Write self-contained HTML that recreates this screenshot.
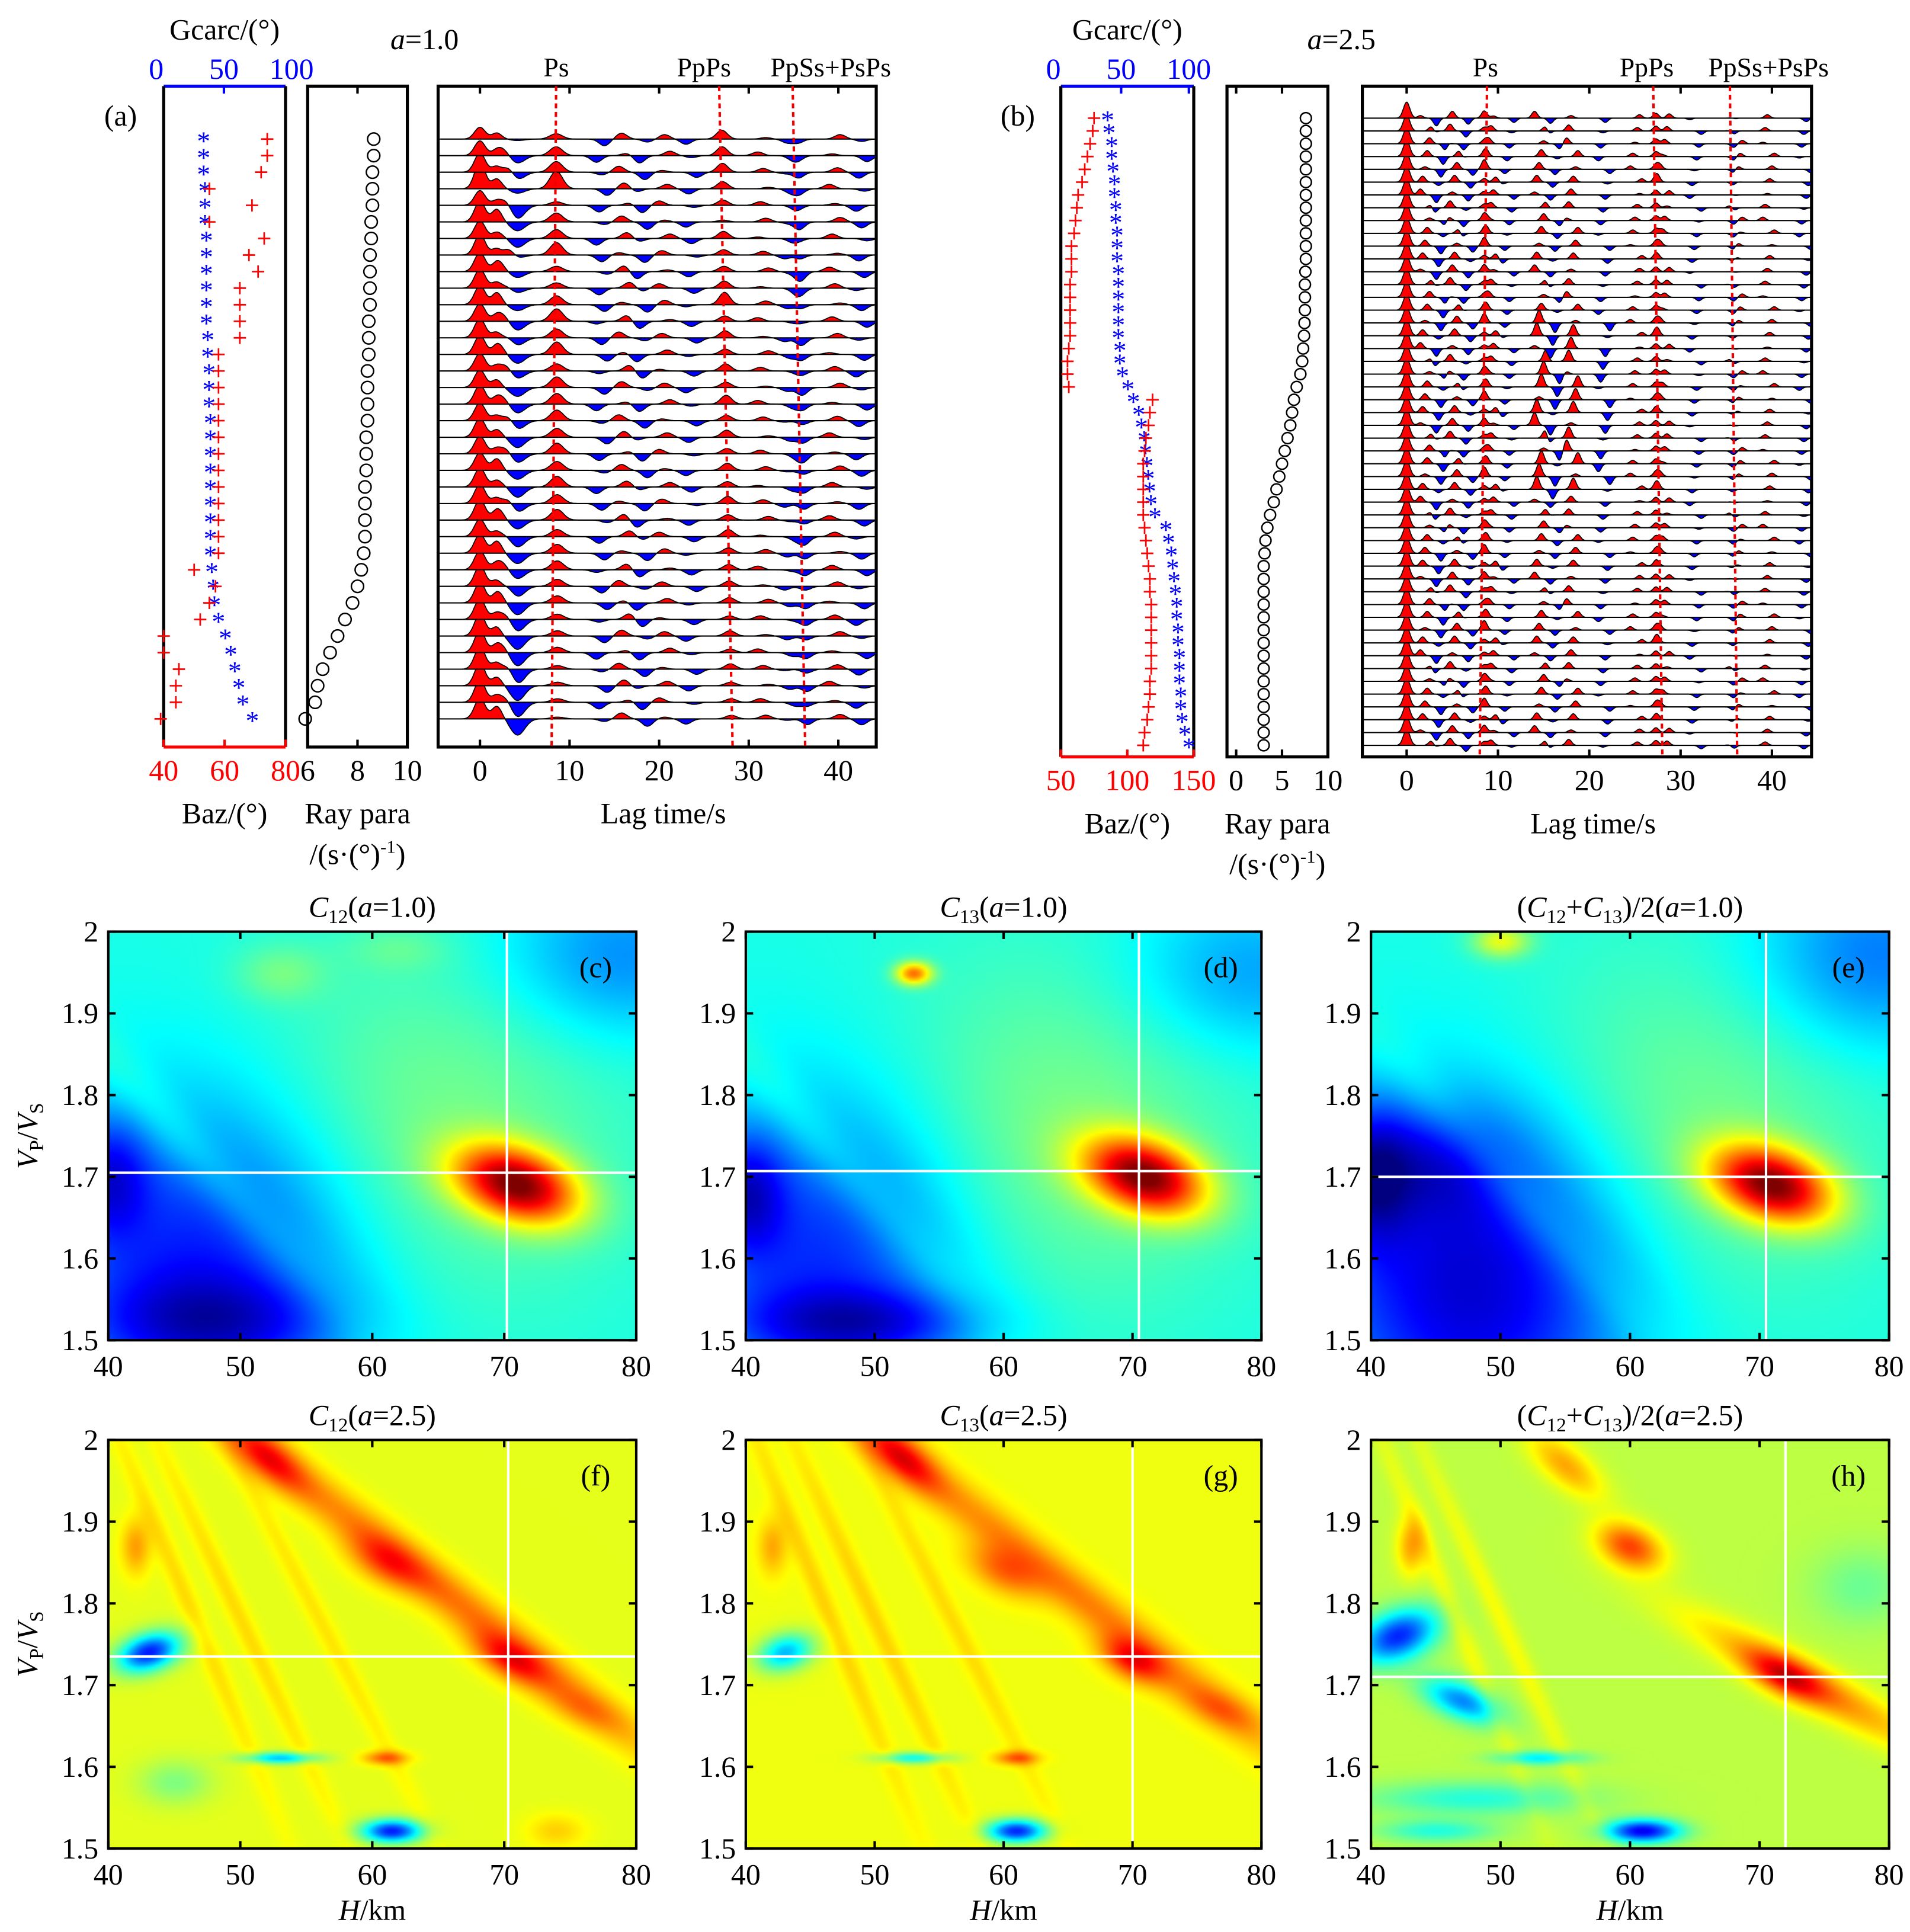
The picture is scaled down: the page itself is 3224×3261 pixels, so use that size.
<!DOCTYPE html>
<html><head><meta charset="utf-8">
<style>
html,body{margin:0;padding:0;background:#fff;}
#root{position:absolute;left:0;top:0;width:1552px;height:1570px;transform:scale(2.07732);transform-origin:0 0;}
canvas{position:absolute;}
svg{position:absolute;left:0;top:0;}
text{font-family:"Liberation Serif",serif;}
</style></head>
<body>
<div id="root">
<canvas id="hc" width="215" height="166" style="left:88px;top:757px;width:429px;height:332px"></canvas>
<canvas id="hd" width="210" height="166" style="left:606px;top:757px;width:419px;height:332px"></canvas>
<canvas id="he" width="210" height="166" style="left:1114px;top:757px;width:421px;height:332px"></canvas>
<canvas id="hf" width="215" height="166" style="left:88px;top:1170px;width:429px;height:332px"></canvas>
<canvas id="hg" width="210" height="166" style="left:606px;top:1170px;width:419px;height:332px"></canvas>
<canvas id="hh" width="210" height="166" style="left:1114px;top:1170px;width:421px;height:332px"></canvas>
<svg id="sv" width="1552" height="1570" viewBox="0 0 1552 1570"></svg>
</div>
<script>
// ---------- DATA ----------
// panel (a): 36 traces
const gcarcA=[35,35,35,36,36,36,37,37,37,37,37,37,38,38,39,39,39,40,40,40,40,40,40,40,40,40,41,42,43,46,51,55,58,61,64,71];
const bazA=[74,74,72,55,69,55,73,68,71,65,65,65,65,58,58,58,58,58,58,58,58,58,58,58,58,58,50,57,55,52,40,40,45,44,44,39];
const rayA=[8.65,8.65,8.6,8.6,8.6,8.55,8.55,8.5,8.5,8.5,8.5,8.45,8.45,8.45,8.4,8.4,8.4,8.4,8.35,8.35,8.35,8.3,8.3,8.3,8.3,8.25,8.15,8.0,7.8,7.5,7.2,6.9,6.6,6.4,6.3,5.9];
const pA=[0.8,1.0,1.3,1.8,1.0,1.4,1.2,1.4,1.3,1.3,1.3,1.2,1.3,1.3,1.2,1.2,1.3,1.2,1.3,1.2,1.2,1.3,1.3,1.4,1.2,1.3,1.3,1.4,1.4,1.4,1.5,1.5,1.5,1.5,1.5,1.4];
const psA=[0.3,0.5,0.6,1.0,0.2,0.5,0.5,0.7,0.3,0.3,0.5,0.7,0.5,0.7,0.4,0.6,0.6,0.6,0.5,0.6,0.5,0.6,0.5,0.6,0.4,0.5,0.5,0.4,0.4,0.3,0.3,0.3,0.2,0.2,0.2,0.1];
const negA=[-0.1,-0.5,-0.5,-0.3,-0.9,-0.6,-0.6,-0.2,-0.4,-0.3,-0.4,-0.6,-0.5,-0.6,-0.5,-0.6,-0.6,-0.6,-0.7,-0.6,-0.6,-0.7,-0.6,-0.6,-0.7,-0.7,-0.6,-0.7,-0.8,-0.8,-0.9,-0.9,-1.0,-1.0,-1.0,-1.1];
const ppA=[0.5,0.5,0.5,0.4,0.3,0.1,0.4,0.3,0.3,0.4,0.7,0.3,0.4,0.3,0.4,0.3,0.5,0.3,0.4,0.3,0.4,0.3,0.4,0.3,0.4,0.3,0.3,0.3,0.3,0.2,0.3,0.2,0.3,0.2,0.2,0.2];
const ssA=[-0.2,-0.2,-0.3,-0.3,-0.1,-0.4,-0.1,-0.2,-0.5,-0.3,-0.2,-0.1,-0.4,-0.3,-0.2,-0.4,-0.3,-0.2,-0.3,-0.4,-0.2,-0.3,-0.3,-0.2,-0.4,-0.3,-0.3,-0.2,-0.3,-0.3,-0.2,-0.3,-0.2,-0.3,-0.2,-0.3];
const wigT=[2,13,15.5,17.5,20,23,31,34,39,42];
const wigAmp=[0.45,-0.45,0.4,-0.5,0.3,-0.35,0.25,-0.25,0.3,-0.4];
// panel (b): 50 traces
const gcarcB=[40,41,43,43,44,45,45,46,46,47,47,47,48,48,48,48,48,48,49,49,51,55,59,63,65,67,68,69,70,71,72,75,83,85,87,88,89,90,91,91,92,92,93,93,93,94,94,95,97,100];
const bazB=[75,74,72,70,68,66,63,62,61,60,58,58,58,57,57,57,57,57,56,55,55,56,119,117,116,114,113,112,112,112,112,112,113,114,115,116,117,117,118,118,118,118,118,118,117,117,116,115,113,112];
const rayB=[7.6,7.6,7.6,7.6,7.6,7.6,7.6,7.6,7.6,7.6,7.6,7.6,7.55,7.5,7.5,7.5,7.45,7.4,7.3,7.2,7.0,6.6,6.3,6.1,5.9,5.6,5.3,5.0,4.7,4.4,4.1,3.7,3.4,3.2,3.1,3.0,3.0,3.0,3.0,3.0,3.0,3.0,3.0,3.0,3.0,3.0,3.0,3.0,3.0,3.0];
const wigTB=[1.5,3,4.5,6,8.5,10.5,14,15.5,17.5,21,24.5,27.5,31,35.5,39,43];
const wigAB=[0.7,-0.9,0.8,-0.7,0.6,-0.5,0.8,-0.6,0.7,-0.5,0.4,0.5,-0.4,0.4,0.4,-0.4];
// heatmap blobs: [H(km), Vp/Vs, amplitude, sigmaLong, sigmaShort (normalized), angle deg]
const blobsC=[[47,1.60,-0.26,0.22,0.28,0],[48,1.52,-0.16,0.16,0.08,0],[40,1.70,-0.18,0.05,0.10,0],[47,1.72,0.07,0.30,0.04,-55],[64,1.75,0.10,0.25,0.30,0],[71,1.69,0.55,0.09,0.06,-30],[79,1.97,-0.14,0.16,0.14,0],[53,1.95,0.08,0.06,0.05,0],[62,1.98,0.05,0.07,0.04,0]];
const blobsD=[[46,1.60,-0.24,0.20,0.28,0],[49,1.52,-0.18,0.16,0.06,0],[40,1.68,-0.2,0.05,0.10,0],[47,1.72,0.06,0.30,0.04,-55],[64,1.75,0.10,0.25,0.30,0],[71,1.70,0.55,0.09,0.06,-30],[79,1.95,-0.12,0.16,0.14,0],[53,1.95,0.35,0.02,0.025,90]];
const blobsE=[[48,1.57,-0.33,0.22,0.30,0],[44,1.72,-0.15,0.12,0.10,0],[40,1.70,-0.18,0.05,0.12,0],[50,1.70,0.06,0.30,0.04,-55],[64,1.75,0.10,0.25,0.30,0],[71,1.69,0.55,0.09,0.06,-30],[79,1.97,-0.16,0.16,0.16,0],[50,1.99,0.20,0.04,0.03,0]];
const blobsF=[[65,1.82,0.16,0.45,0.035,-45],[61,1.85,0.15,0.06,0.035,-40],[70.5,1.73,0.2,0.06,0.03,-40],[52,1.98,0.2,0.07,0.03,-50],[42,1.87,0.12,0.02,0.05,0],[43,1.74,-0.45,0.03,0.045,-60],[53,1.61,-0.28,0.05,0.01,0],[61,1.61,0.17,0.03,0.012,0],[61.5,1.52,-0.45,0.04,0.02,0],[50,1.78,0.06,0.4,0.015,-70],[46,1.80,0.06,0.4,0.015,-72],[56,1.78,0.05,0.4,0.015,-68],[45,1.58,-0.1,0.05,0.04,0],[76,1.67,0.08,0.06,0.03,-30],[74,1.52,0.07,0.04,0.03,0]];
const blobsG=[[65,1.82,0.14,0.45,0.035,-45],[60,1.84,0.15,0.06,0.035,-40],[70,1.73,0.22,0.05,0.03,-40],[52,1.98,0.22,0.07,0.03,-50],[42,1.87,0.10,0.02,0.05,0],[43,1.74,-0.3,0.03,0.04,-60],[53,1.61,-0.22,0.05,0.01,0],[61,1.61,0.17,0.03,0.012,0],[61,1.52,-0.45,0.04,0.02,0],[50,1.78,0.06,0.4,0.015,-70],[46,1.80,0.06,0.4,0.015,-72],[56,1.78,0.05,0.4,0.015,-68],[77,1.67,0.1,0.06,0.03,-30]];
const blobsH=[[74,1.70,0.18,0.2,0.035,-35],[60,1.87,0.25,0.05,0.035,-40],[72,1.71,0.22,0.06,0.03,-35],[55,1.97,0.15,0.07,0.03,-50],[43,1.87,0.15,0.02,0.05,0],[42,1.76,-0.4,0.04,0.06,-55],[47,1.68,-0.3,0.06,0.03,-30],[53,1.61,-0.2,0.06,0.012,0],[61,1.52,-0.45,0.05,0.02,0],[50,1.78,0.06,0.4,0.015,-70],[46,1.80,0.06,0.4,0.015,-72],[48,1.56,-0.15,0.15,0.03,0],[45,1.52,-0.15,0.08,0.02,0],[78,1.82,-0.08,0.07,0.07,0]];
const cross={c:[70.2,1.705],d:[70.5,1.707],e:[70.5,1.70],f:[70.3,1.735],g:[70,1.735],h:[72,1.71]};
const Hticks=[40,50,60,70,80];
const Vticks=[1.5,1.6,1.7,1.8,1.9,2];

// ---------- HEATMAPS ----------
function jet(v){const c=x=>Math.max(0,Math.min(1,x));return [c(1.5-Math.abs(4*v-3))*255,c(1.5-Math.abs(4*v-2))*255,c(1.5-Math.abs(4*v-1))*255];}
function heat(id,base,blobs){
  const cv=document.getElementById(id),ctx=cv.getContext('2d'),W=cv.width,Hh=cv.height;
  const img=ctx.createImageData(W,Hh);
  const B=blobs.map(b=>({u:(b[0]-40)/40,w:(b[1]-1.5)/0.5,a:b[2],s1:b[3],s2:b[4],c:Math.cos(b[5]*Math.PI/180),s:Math.sin(b[5]*Math.PI/180)}));
  for(let j=0;j<Hh;j++)for(let i=0;i<W;i++){
    const u=i/(W-1),w=1-j/(Hh-1);let v=base;
    for(const b of B){const du=u-b.u,dw=w-b.w;const p=du*b.c+dw*b.s,q=-du*b.s+dw*b.c;v+=b.a*Math.exp(-0.5*(p*p/(b.s1*b.s1)+q*q/(b.s2*b.s2)));}
    const col=jet(Math.max(0,Math.min(1,v)));const k=(j*W+i)*4;
    img.data[k]=col[0];img.data[k+1]=col[1];img.data[k+2]=col[2];img.data[k+3]=255;}
  ctx.putImageData(img,0,0);
}
heat('hc',0.40,blobsC);heat('hd',0.40,blobsD);heat('he',0.40,blobsE);
heat('hf',0.60,blobsF);heat('hg',0.61,blobsG);heat('hh',0.56,blobsH);

// ---------- SVG ----------
const NS='http://www.w3.org/2000/svg',sv=document.getElementById('sv');
function el(tag,at,parent){const e=document.createElementNS(NS,tag);for(const k in at)e.setAttribute(k,at[k]);(parent||sv).appendChild(e);return e;}
function txt(x,y,s,at){const e=el('text',Object.assign({x:x,y:y,'font-size':24,'text-anchor':'middle'},at||{}));e.innerHTML=s;return e;}

const C='<tspan font-style="italic">C</tspan>';
const hp=[['c',88,757,429,C+'<tspan font-size="16" dy="5">12</tspan><tspan dy="-5">(</tspan><tspan font-style="italic">a</tspan>=1.0)'],
['d',606,757,419,C+'<tspan font-size="16" dy="5">13</tspan><tspan dy="-5">(</tspan><tspan font-style="italic">a</tspan>=1.0)'],
['e',1114,757,421,'('+C+'<tspan font-size="16" dy="5">12</tspan><tspan dy="-5">+</tspan>'+C+'<tspan font-size="16" dy="5">13</tspan><tspan dy="-5">)/2(</tspan><tspan font-style="italic">a</tspan>=1.0)'],
['f',88,1170,429,C+'<tspan font-size="16" dy="5">12</tspan><tspan dy="-5">(</tspan><tspan font-style="italic">a</tspan>=2.5)'],
['g',606,1170,419,C+'<tspan font-size="16" dy="5">13</tspan><tspan dy="-5">(</tspan><tspan font-style="italic">a</tspan>=2.5)'],
['h',1114,1170,421,'('+C+'<tspan font-size="16" dy="5">12</tspan><tspan dy="-5">+</tspan>'+C+'<tspan font-size="16" dy="5">13</tspan><tspan dy="-5">)/2(</tspan><tspan font-style="italic">a</tspan>=2.5)']];
hp.forEach(([k,x0,y0,w,title])=>{
  const h=332,g=el('g',{});
  
  
  const xs=H=>x0+(H-40)/40*w,ys=v=>y0+h-(v-1.5)/0.5*h;
  const c=cross[k];
  const l1=el('line',{x1:xs(c[0]),x2:xs(c[0]),y1:y0,y2:y0+h,stroke:'#fff','stroke-width':2},g);
  
  
  const l2=el('line',{x1:x0,x2:x0+w,y1:ys(c[1]),y2:ys(c[1]),stroke:'#fff','stroke-width':2},g);
  
  
  el('rect',{x:x0,y:y0,width:w,height:h,fill:'none',stroke:'#000','stroke-width':2},g);
  Hticks.forEach(t=>{el('line',{x1:xs(t),x2:xs(t),y1:y0+h,y2:y0+h-6,stroke:'#000','stroke-width':2},g);el('line',{x1:xs(t),x2:xs(t),y1:y0,y2:y0+6,stroke:'#000','stroke-width':2},g);
    const tt=txt(xs(t),y0+h+29,t);});
  Vticks.forEach(t=>{el('line',{x1:x0,x2:x0+6,y1:ys(t),y2:ys(t),stroke:'#000','stroke-width':2},g);el('line',{x1:x0+w,x2:x0+w-6,y1:ys(t),y2:ys(t),stroke:'#000','stroke-width':2},g);
    const tt=txt(x0-8,ys(t)+8,t===2?'2':t.toFixed(1),{'text-anchor':'end'});});
  const ti=txt(x0+w/2,y0-12,title);
  const lb=txt(x0+w-33,y0+37,'('+k+')');
  if(y0>1100){const xl=txt(x0+w/2,y0+h+58,'<tspan font-style="italic">H</tspan>/km');}
  if(x0<100){const yl=txt(0,0,'<tspan font-style="italic">V</tspan><tspan font-size="16" dy="5">P</tspan><tspan dy="-5">/</tspan><tspan font-style="italic">V</tspan><tspan font-size="16" dy="5">S</tspan>',{transform:`translate(30,${y0+h/2}) rotate(-90)`});}
});

function scatterPanel(opt){
  const {x0,x1,top,bot,rows,rowY,gc,bz,ry,gAx,bAx,rAx,rx0,rx1,lab,gTicks,bTicks,rTicks}=opt;
  el('line',{x1:x0,x2:x1,y1:top,y2:top,stroke:'#00f','stroke-width':2.5});
  el('line',{x1:x0,x2:x1,y1:bot,y2:bot,stroke:'#f00','stroke-width':2.5});
  el('line',{x1:x0,x2:x0,y1:top,y2:bot,stroke:'#000','stroke-width':2.5});
  el('line',{x1:x1,x2:x1,y1:top,y2:bot,stroke:'#000','stroke-width':2.5});
  const gx=v=>x0+(v-gAx[0])/(gAx[1]-gAx[0])*(x1-x0),bx=v=>x0+(v-bAx[0])/(bAx[1]-bAx[0])*(x1-x0);
  gTicks.forEach(t=>{if(gx(t)>x0&&gx(t)<x1)el('line',{x1:gx(t),x2:gx(t),y1:top,y2:top+6,stroke:'#00f','stroke-width':2});const e=txt(gx(t),top-6,t,{fill:'#00f'});});
  bTicks.forEach(t=>{el('line',{x1:bx(t),x2:bx(t),y1:bot,y2:bot-6,stroke:'#f00','stroke-width':2});const e=txt(bx(t),bot+27,t,{fill:'#f00'});});
  const t1=txt((x0+x1)/2,top-38,'Gcarc/(°)');
  const t2=txt((x0+x1)/2,bot+62,'Baz/(°)');
  const t3=txt(x0-35,top+32,lab);
  for(let i=0;i<rows;i++){const y=rowY(i);
    const s=txt(gx(gc[i]),y+9,'*',{fill:'#00f','font-size':22});
    const p=el('path',{d:`M${bx(bz[i])-5},${y}h10M${bx(bz[i])},${y-5}v10`,stroke:'#f00','stroke-width':1.3});}
  el('rect',{x:rx0,y:top,width:rx1-rx0,height:bot-top,fill:'none',stroke:'#000','stroke-width':2.5});
  const rxx=v=>rx0+(v-rAx[0])/(rAx[1]-rAx[0])*(rx1-rx0);
  rTicks.forEach(t=>{el('line',{x1:rxx(t),x2:rxx(t),y1:bot,y2:bot-6,stroke:'#000','stroke-width':2});el('line',{x1:rxx(t),x2:rxx(t),y1:top,y2:top+6,stroke:'#000','stroke-width':2});const e=txt(rxx(t),bot+27,t);});
  const t4=txt((rx0+rx1)/2,bot+62,'Ray para');
  const t5=txt((rx0+rx1)/2,bot+95,'/(s·(°)<tspan font-size="15" dy="-9">-1</tspan><tspan dy="9">)</tspan>');
  for(let i=0;i<rows;i++){const c=el('circle',{cx:rxx(ry[i]),cy:rowY(i),r:opt.cr,fill:'none',stroke:'#000','stroke-width':1.2});}
}
scatterPanel({x0:133,x1:232,top:70,bot:607,rows:36,rowY:i=>113+i*13.46,gc:gcarcA,bz:bazA,ry:rayA,gAx:[5.5,95.5],bAx:[40,80],rAx:[6,10],rx0:250,rx1:331,lab:'(a)',gTicks:[0,50,100],bTicks:[40,60,80],rTicks:[6,8,10],cr:5});
scatterPanel({x0:862,x1:970,top:70,bot:615,rows:50,rowY:i=>96+i*10.4,gc:gcarcB,bz:bazB,ry:rayB,gAx:[5.5,103.6],bAx:[50,150],rAx:[-1,10],rx0:997,rx1:1079,lab:'(b)',gTicks:[0,50,100],bTicks:[50,100,150],rTicks:[0,5,10],cr:4.5});

function traces(opt){
  const {x0,x1,top,bot,rows,rowY,t0x,pps,amp,lines,title,titleX}=opt;
  const tx=t=>t0x+t*pps,tmax=(x1-t0x)/pps,tmin=(x0-t0x)/pps;
  el('rect',{x:x0,y:top,width:x1-x0,height:bot-top,fill:'none',stroke:'#000','stroke-width':2.5});
  for(let i=rows-1;i>=0;i--){
    const y=rowY(i),pulses=opt.pulses(i);
    const f=t=>{let v=0;for(const p of pulses)v+=p[1]*Math.exp(-0.5*((t-p[0])/p[2])**2);return v;};
    let pts=[];for(let t=tmin+0.3;t<=tmax;t+=0.1)pts.push([tx(t),y-f(t)*amp]);
    const d='M'+pts[0][0]+','+y+'L'+pts.map(p=>p[0].toFixed(1)+','+p[1].toFixed(1)).join('L')+'L'+pts[pts.length-1][0]+','+y+'Z';
    el('clipPath',{id:'cu'+title+i}).appendChild(el('rect',{x:x0,y:0,width:x1-x0,height:y}));
    el('clipPath',{id:'cd'+title+i}).appendChild(el('rect',{x:x0,y:y,width:x1-x0,height:2000}));
    const pr=el('path',{d:d,fill:'#f00','clip-path':`url(#cu${title}${i})`});
    const pb=el('path',{d:d,fill:'#00f','clip-path':`url(#cd${title}${i})`});
    el('path',{d:'M'+pts.map(p=>p[0].toFixed(1)+','+p[1].toFixed(1)).join('L'),fill:'none',stroke:'#000','stroke-width':0.8});
    el('line',{x1:x0,x2:x1,y1:y,y2:y,stroke:'#000','stroke-width':1});
  }
  [0,10,20,30,40].forEach(t=>{el('line',{x1:tx(t),x2:tx(t),y1:bot,y2:bot-6,stroke:'#000','stroke-width':2});el('line',{x1:tx(t),x2:tx(t),y1:top,y2:top+6,stroke:'#000','stroke-width':2});
    const e=txt(tx(t),bot+27,t);});
  const lt=txt((x0+x1)/2+5,bot+62,'Lag time/s');
  lines.forEach(([a,b,name,lx])=>{const l=el('line',{x1:tx(a),x2:tx(b),y1:top,y2:bot,stroke:'#e00','stroke-width':2,'stroke-dasharray':'4,3'});
    const e=txt(lx,top-8,name,{'font-size':22});});
  const ti=txt(titleX,40,'<tspan font-style="italic">a</tspan>='+title);
}
traces({x0:356,x1:712,top:70,bot:607,rows:36,rowY:i=>113+i*13.46,t0x:390,pps:7.28,amp:12,title:'1.0',titleX:345,
  lines:[[8.5,8,'Ps',452],[26.7,28.2,'PpPs',572],[34.9,36.3,'PpSs+PsPs',675]],
  pulses:i=>{const ps=[[0,pA[i],0.6],[1.8,0.3*pA[i],0.5],[4.2,negA[i],0.8],[8.5+i*0.005,psA[i]*1.2,0.7],[27+i*0.03,ppA[i]*1.2,0.6],[35.5+i*0.03,ssA[i]*1.3,0.6]];
    wigT.forEach((t,k)=>ps.push([t+((i*7+k*3)%5)*0.3,wigAmp[k]*(((i+k)%3)===0?0.4:1),0.6]));return ps;}});
traces({x0:1107,x1:1472,top:70,bot:615,rows:50,rowY:i=>96+i*10.4,t0x:1143,pps:7.42,amp:10,title:'2.5',titleX:1090,
  lines:[[8.8,8,'Ps',1207],[27,28,'PpPs',1338],[35.4,36.2,'PpSs+PsPs',1437]],
  pulses:i=>{const ps=[[0,1.3,0.35],[8.5,0.3+0.3*((i%4)===0),0.3],[27.3,0.4,0.3],[35.8,-0.3,0.3]];
    wigTB.forEach((t,k)=>ps.push([t+((i*5+k*7)%6)*0.25,wigAB[k]*(((i*3+k)%4)===0?0.3:(i>15&&i<30&&k>5&&k<10?1.3:0.7)),0.3]));return ps;}});
</script>
</body></html>
